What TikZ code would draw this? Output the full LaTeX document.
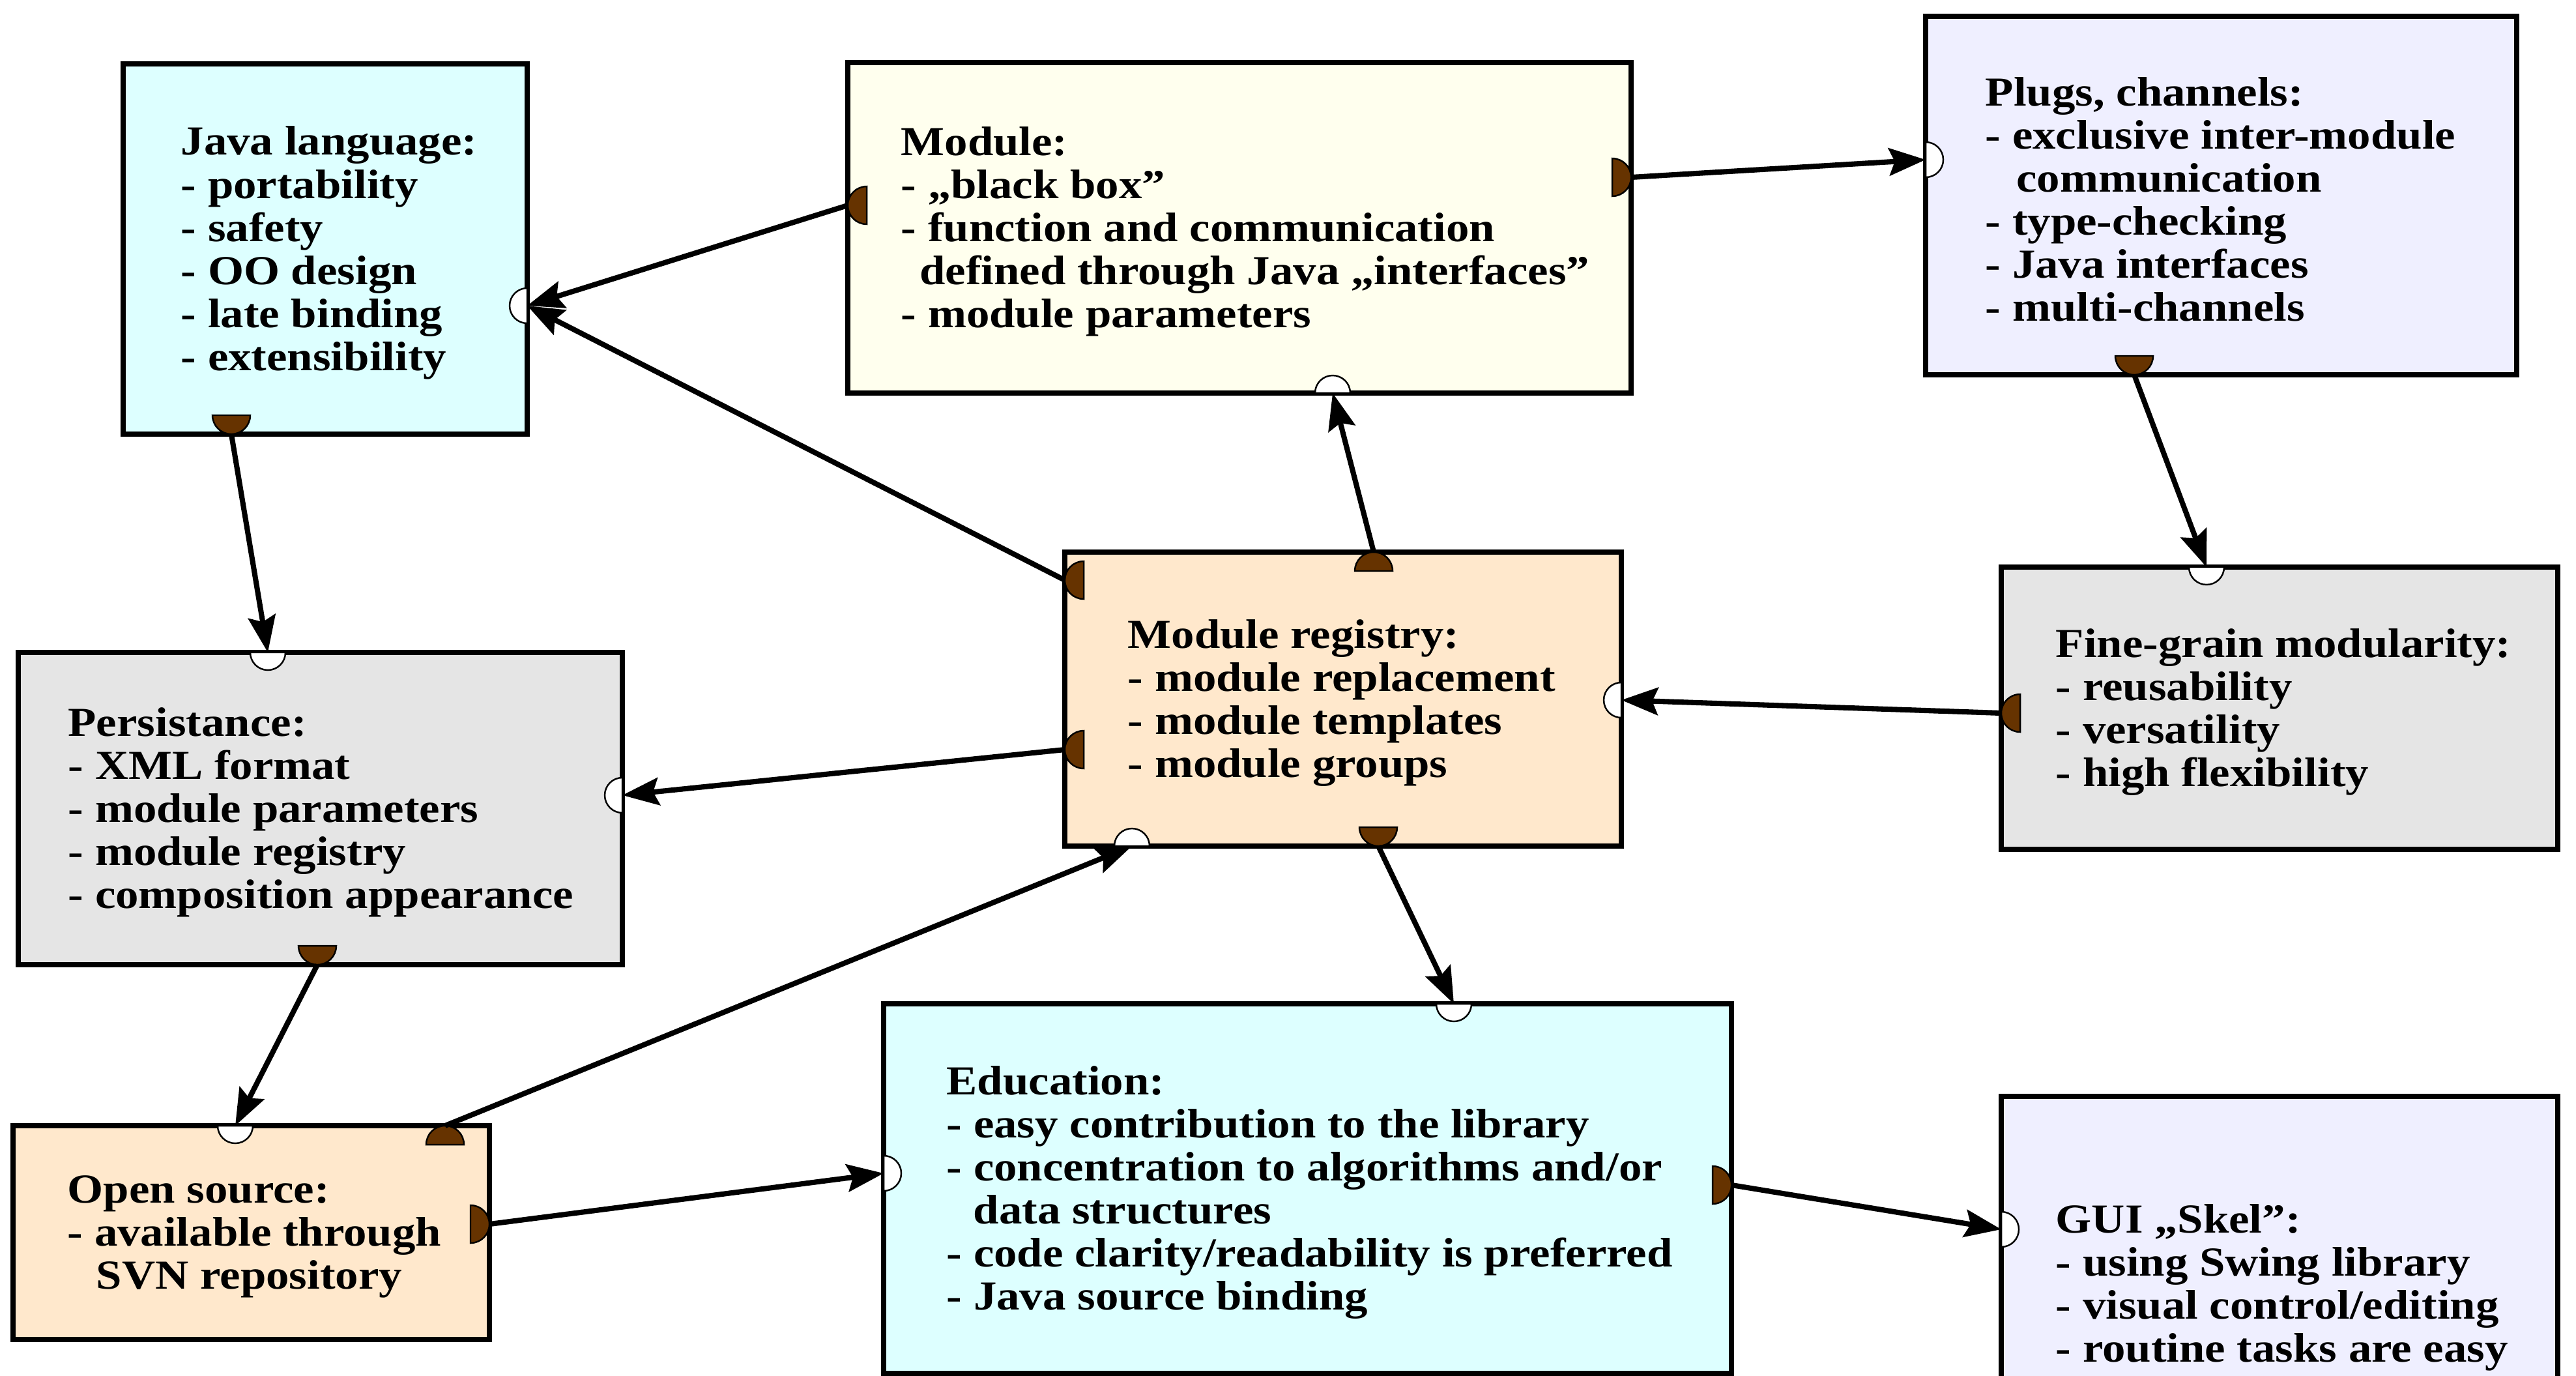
\documentclass[tikz,border=0pt]{standalone}
\usepackage{fontspec}
\setmainfont{Liberation Serif}[FakeStretch=1.12]
\usepackage{tikz}
\usetikzlibrary{arrows.meta,positioning}

\definecolor{javacyan}{HTML}{DDFFFF}
\definecolor{modivory}{HTML}{FFFFEE}
\definecolor{plugviolet}{HTML}{EFEFFF}
\definecolor{regpeach}{HTML}{FFE8CC}
\definecolor{persgrey}{HTML}{E5E5E5}
\definecolor{plugbrown}{HTML}{663300}

% half disc sticking out of a box (output) and hollow half disc (input)
\newcommand{\plugat}[2]{\filldraw[plug,shift={(#1)},rotate=#2] (-0.29,-0.29) arc[start angle=-90,end angle=90,radius=0.29] -- cycle;}
\newcommand{\socketat}[2]{\filldraw[socket,shift={(#1)},rotate=#2] (0,-0.27) arc[start angle=-90,end angle=-270,radius=0.27] -- cycle;}

\begin{document}
\begin{tikzpicture}[>={Stealth[length=16pt,width=12pt,inset=2.5pt]},
    box/.style={draw,line width=2.5pt,inner sep=0,outer sep=0},
    txt/.style={align=left,inner sep=0,yshift=-0.06cm,font=\fontsize{18pt}{18.8pt}\selectfont\bfseries},
    plug/.style={fill=plugbrown,draw=black,line width=0.7pt},
    socket/.style={fill=white,draw=black,line width=0.7pt},
    arr/.style={->,line width=2.3pt}]
  \useasboundingbox (0,0) rectangle (39.53,-21.10);
  \clip (0,0) rectangle (39.53,-21.10);

  % boxes
  \node[box,fill=javacyan,minimum width=6.20cm,minimum height=5.68cm] (java) at (4.99,-3.82) {};
  \node[box,fill=modivory,minimum width=12.02cm,minimum height=5.07cm] (module) at (19.02,-3.495) {};
  \node[box,fill=plugviolet,minimum width=9.07cm,minimum height=5.50cm] (plugs) at (34.085,-3.00) {};
  \node[box,fill=regpeach,minimum width=8.54cm,minimum height=4.51cm] (registry) at (20.61,-10.725) {};
  \node[box,fill=persgrey,minimum width=8.54cm,minimum height=4.33cm] (fine) at (34.98,-10.865) {};
  \node[box,fill=persgrey,minimum width=9.27cm,minimum height=4.79cm] (persist) at (4.915,-12.405) {};
  \node[box,fill=regpeach,minimum width=7.31cm,minimum height=3.28cm] (opensrc) at (3.855,-18.91) {};
  \node[box,fill=javacyan,minimum width=13.01cm,minimum height=5.67cm] (edu) at (20.065,-18.235) {};
  \node[box,fill=plugviolet,minimum width=8.54cm,minimum height=5.74cm] (gui) at (34.98,-19.69) {};

  % texts
  \node[txt,right=0.88cm of java.west] (java-t) {Java language:\\- portability\\- safety\\- OO design\\- late binding\\- extensibility};
  \node[txt,right=0.81cm of module.west] (module-t) {Module:\\- „black box”\\- function and communication\\\hspace*{0.45em}defined through Java „interfaces”\\- module parameters};
  \node[txt,right=0.91cm of plugs.west] (plugs-t) {Plugs, channels:\\- exclusive inter-module\\\hspace*{0.75em}communication\\- type-checking\\- Java interfaces\\- multi-channels};
  \node[txt,right=0.96cm of registry.west] (registry-t) {Module registry:\\- module replacement\\- module templates\\- module groups};
  \node[txt,right=0.83cm of fine.west] (fine-t) {Fine-grain modularity:\\- reusability\\- versatility\\- high flexibility};
  \node[txt,right=0.76cm of persist.west] (persist-t) {Persistance:\\- XML format\\- module parameters\\- module registry\\- composition appearance};
  \node[txt,right=0.83cm of opensrc.west] (opensrc-t) {Open source:\\- available through\\\hspace*{0.7em}SVN repository};
  \node[txt,right=0.96cm of edu.west] (edu-t) {Education:\\- easy contribution to the library\\- concentration to algorithms and/or\\\hspace*{0.65em}data structures\\- code clarity/readability is preferred\\- Java source binding};
  \node[txt,right=0.83cm of gui.west] (gui-t) {GUI „Skel”:\\- using Swing library\\- visual control/editing\\- routine tasks are easy};

  % plug and socket points
  \coordinate (java-o) at (java.south -| 3.55,0);
  \coordinate (java-i) at (java.east |- 0,-4.69);
  \coordinate (module-o1) at (module.west |- 0,-3.15);
  \coordinate (module-o2) at (module.east |- 0,-2.72);
  \coordinate (module-i) at (module.south -| 20.45,0);
  \coordinate (plugs-i) at (plugs.west |- 0,-2.45);
  \coordinate (plugs-o) at (plugs.south -| 32.75,0);
  \coordinate (registry-o1) at (registry.west |- 0,-8.90);
  \coordinate (registry-o2) at (registry.west |- 0,-11.50);
  \coordinate (registry-o3) at (registry.north -| 21.08,0);
  \coordinate (registry-o4) at (registry.south -| 21.15,0);
  \coordinate (registry-i1) at (registry.east |- 0,-10.74);
  \coordinate (registry-i2) at (registry.south -| 17.37,0);
  \coordinate (fine-i) at (fine.north -| 33.86,0);
  \coordinate (fine-o) at (fine.west |- 0,-10.94);
  \coordinate (persist-i1) at (persist.north -| 4.11,0);
  \coordinate (persist-i2) at (persist.east |- 0,-12.20);
  \coordinate (persist-o) at (persist.south -| 4.87,0);
  \coordinate (opensrc-i) at (opensrc.north -| 3.61,0);
  \coordinate (opensrc-o1) at (opensrc.north -| 6.83,0);
  \coordinate (opensrc-o2) at (opensrc.east |- 0,-18.78);
  \coordinate (edu-i1) at (edu.north -| 22.31,0);
  \coordinate (edu-i2) at (edu.west |- 0,-18.00);
  \coordinate (edu-o) at (edu.east |- 0,-18.18);
  \coordinate (gui-i) at (gui.west |- 0,-18.86);

  \foreach \p/\a in {java-i/0,module-i/270,plugs-i/180,registry-i1/0,registry-i2/270,fine-i/90,
      persist-i1/90,persist-i2/0,opensrc-i/90,edu-i1/90,edu-i2/180,gui-i/180}
    {\socketat{\p}{\a}}
  \foreach \p/\a in {java-o/270,module-o1/180,module-o2/0,plugs-o/270,registry-o1/180,registry-o2/180,
      registry-o3/90,registry-o4/270,fine-o/180,persist-o/270,opensrc-o1/90,opensrc-o2/0,edu-o/0}
    {\plugat{\p}{\a}}

  % connections
  \path[arr]
    (module-o1) edge (java-i)
    (registry-o1) edge (java-i)
    (module-o2) edge (plugs-i)
    (plugs-o) edge (fine-i)
    (registry-o3) edge (module-i)
    (fine-o) edge (registry-i1)
    (registry-o2) edge (persist-i2)
    (java-o) edge (persist-i1)
    (persist-o) edge (opensrc-i)
    (opensrc-o1) edge (registry-i2)
    (registry-o4) edge (edu-i1)
    (opensrc-o2) edge (edu-i2)
    (edu-o) edge (gui-i);
\end{tikzpicture}
\end{document}
